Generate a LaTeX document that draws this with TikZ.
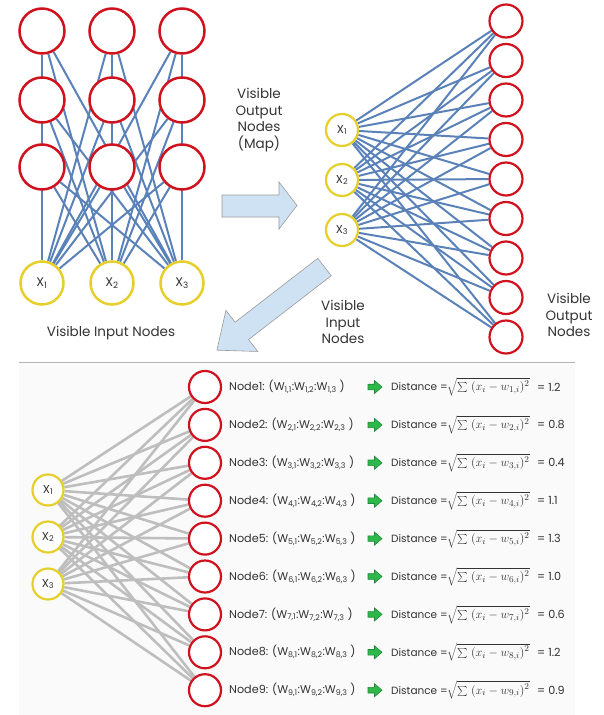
\documentclass[tikz,border=0pt]{standalone}
\usepackage[no-math]{fontspec}
\setmainfont{Poppins}
\usetikzlibrary{calc}
\definecolor{netblue}{HTML}{5A82B8}
\definecolor{nodered}{HTML}{D0121F}
\definecolor{nodeyellow}{HTML}{E6CF2A}
\definecolor{edgegray}{HTML}{BEBEBE}
\definecolor{arrowblue}{HTML}{CFE2F3}
\definecolor{arrowedge}{HTML}{9A9A9A}
\definecolor{gbody}{HTML}{2EB84B}
\definecolor{gedge}{HTML}{1E8A35}
\definecolor{txtgray}{HTML}{333333}
\definecolor{panelbg}{HTML}{FAFAFA}
\definecolor{sepgray}{HTML}{B4B4B4}
\pgfdeclarelayer{bglayer}
\pgfdeclarelayer{edgelayer}
\pgfsetlayers{bglayer,edgelayer,main}
\tikzset{
  redbig/.style={circle,draw=nodered,line width=2.5pt,fill=white,minimum size=45pt,inner sep=0pt},
  yelbig/.style={circle,draw=nodeyellow,line width=2.5pt,fill=white,minimum size=43pt,inner sep=0pt,font=\fontsize{12.5}{14}\selectfont,text=txtgray},
  redsm/.style={circle,draw=nodered,line width=2.2pt,fill=white,minimum size=33pt,inner sep=0pt},
  yelsm/.style={circle,draw=nodeyellow,line width=2.2pt,fill=white,minimum size=32pt,inner sep=0pt,font=\fontsize{11.5}{13}\selectfont,text=txtgray},
  blueedge/.style={draw=netblue,line width=2pt},
  grayedge/.style={draw=edgegray,line width=2.6pt},
  biglbl/.style={font=\fontsize{13.5}{16.5}\selectfont,text=txtgray,align=center},
  rowlbl/.style={font=\fontsize{11.2}{13}\selectfont,text=txtgray,anchor=west,inner sep=0pt},
  bigarrow/.style={fill=arrowblue,draw=arrowedge,line width=0.6pt,line join=miter},
  garrow/.style={fill=gbody,draw=gedge,line width=0.6pt},
}
\begin{document}
\begin{tikzpicture}[x=1pt,y=-1pt]
\useasboundingbox (0,0) rectangle (604,715);
\begin{pgfonlayer}{bglayer}
\fill[panelbg] (19,362) rectangle (575,715);
\draw[sepgray,line width=1pt] (19,362) -- (575,362);
\end{pgfonlayer}

% ---------- top-left network ----------
\foreach \c/\x in {1/42,2/112,3/182}{
  \foreach \r/\y in {1/31,2/100,3/167}{
    \node[redbig] (tl\r\c) at (\x,\y) {};
  }
  \node[yelbig] (tx\c) at (\x,283) {X\textsubscript{\c}};
}
\begin{pgfonlayer}{edgelayer}
\foreach \i in {1,2,3}{\foreach \r in {1,2,3}{\foreach \c in {1,2,3}{
  \draw[blueedge] (tx\i) -- (tl\r\c);
}}}
\end{pgfonlayer}
\node[biglbl] (tlcap) at (111,333) {Visible Input Nodes};

% ---------- top-right network ----------
\foreach \i/\y in {1/130,2/180,3/230}{
  \node[yelsm] (rx\i) at (342,\y) {X\textsubscript{\i}};
}
\foreach \k in {1,...,9}{
  \node[redsm] (ro\k) at (506,{21+39.5*(\k-1)}) {};
}
\begin{pgfonlayer}{edgelayer}
\foreach \i in {1,2,3}{\foreach \k in {1,...,9}{
  \draw[blueedge] (rx\i) -- (ro\k);
}}
\end{pgfonlayer}
\node[biglbl] (mapcap) at (259,120) {Visible\\Output\\Nodes\\(Map)};
\node[biglbl] (incap) at (343,322) {Visible\\Input\\Nodes};
\node[biglbl] (outcap) at (569,315) {Visible\\Output\\Nodes};

% ---------- big arrows ----------
\draw[bigarrow] (222,195) -- (279,195) -- (279,182) -- (297,205.5) -- (279,229) -- (279,217) -- (222,217) -- cycle;
\begin{scope}[shift={(324.5,267)},rotate=217.7]
\draw[bigarrow] (0,-11) -- (104.5,-11) -- (104.5,-26) -- (136,0) -- (104.5,26) -- (104.5,11) -- (0,11) -- cycle;
\end{scope}

% ---------- bottom network ----------
\foreach \i/\y in {1/490,2/537,3/584}{
  \node[yelsm,minimum size=31pt] (bx\i) at (48,\y) {X\textsubscript{\i}};
}
\foreach \k in {1,...,9}{
  \node[redsm,minimum size=32pt] (bo\k) at (205,{387+37.9*(\k-1)}) {};
}
\begin{pgfonlayer}{edgelayer}
\foreach \i in {1,2,3}{\foreach \k in {1,...,9}{
  \draw[grayedge] (bx\i) -- (bo\k);
}}
\end{pgfonlayer}

\foreach \k/\d in {1/1.2,2/0.8,3/0.4,4/1.1,5/1.3,6/1.0,7/0.6,8/1.2,9/0.9}{
  \pgfmathsetmacro{\yy}{387+37.9*(\k-1)}
  \node[rowlbl] (nl\k) at (229,\yy) {Node\k: (W\textsubscript{\k,1}:W\textsubscript{\k,2}:W\textsubscript{\k,3} )};
  \draw[garrow] (368,\yy-2.8) -- (374.5,\yy-2.8) -- (374.5,\yy-6.5) -- (382,\yy) -- (374.5,\yy+6.5) -- (374.5,\yy+2.8) -- (368,\yy+2.8) -- cycle;
  \node[rowlbl,font=\fontsize{10.5}{12}\selectfont] (dl\k) at (391,\yy) {Distance =};
  \node[rowlbl,font=\fontsize{12.3}{14}\selectfont] (df\k) at (447,\yy) {$\sqrt{\textstyle\sum\ (x_i - w_{\k,i})^2}$};
  \node[rowlbl] (dv\k) at (537,\yy) {= \d};
}
\end{tikzpicture}
\end{document}
